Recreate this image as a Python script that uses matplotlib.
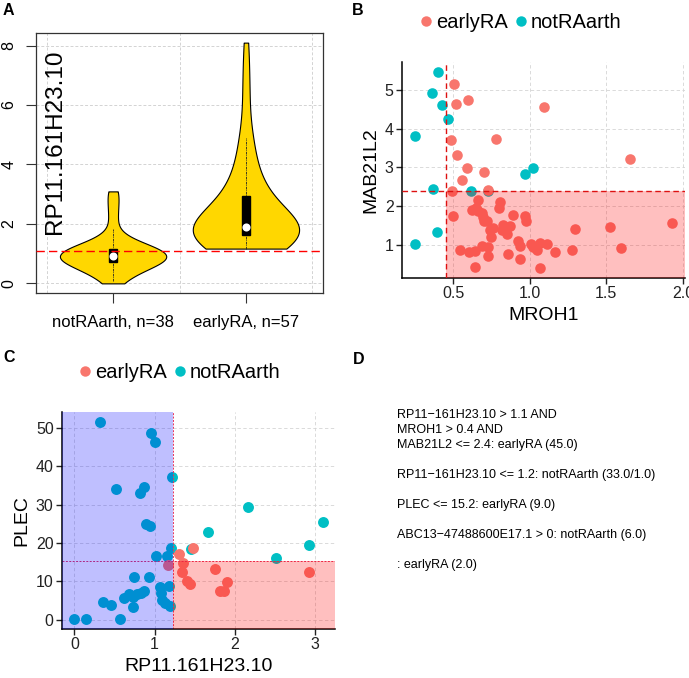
import numpy as np
import matplotlib
matplotlib.use("Agg")
from matplotlib import pyplot as plt
from matplotlib.patches import Rectangle
from matplotlib.lines import Line2D

plt.rcParams['font.family'] = ['Liberation Sans', 'DejaVu Sans']

# %% data
# RP11.161H23.10 expression per group (panel A and x of panel C)
not_ra_rp11 = [0.0, 0.149, 0.315, 0.353, 0.46, 0.519, 0.573, 0.614, 0.676, 0.73,
               0.73, 0.739, 0.78, 0.822, 0.83, 0.871, 0.871, 0.896, 0.925, 0.946,
               0.958, 1.008, 1.02, 1.07, 1.083, 1.091, 1.133, 1.15, 1.174, 1.195,
               1.207, 1.216, 1.456, 1.672, 2.17, 2.514, 2.925, 3.095]
early_ra_rp11 = [1.17, 1.2, 1.25, 1.3, 1.307, 1.34, 1.353, 1.38, 1.402, 1.444,
                 1.485, 1.52, 1.55, 1.58, 1.62, 1.65, 1.68, 1.70, 1.72, 1.74,
                 1.755, 1.77, 1.79, 1.81, 1.83, 1.85, 1.86, 1.867, 1.9,
                 1.92, 1.95, 2.0, 2.05, 2.1, 2.2, 2.3, 2.4, 2.5, 2.6, 2.7, 2.8,
                 2.9, 2.93, 3.05, 3.2, 3.35, 3.5, 3.7, 3.9, 4.2, 4.5, 4.8, 5.0,
                 5.8, 6.5, 7.2, 8.1]
group_names = ['notRAarth', 'earlyRA']
rp11_cut_a = 1.1

# panel B: MROH1 vs MAB21L2 (samples with RP11.161H23.10 > 1.1)
b_early_mroh1 = [0.502, 0.515, 0.598, 1.09, 0.485, 0.779, 0.526, 1.657, 0.592, 0.703,
                 0.555, 0.493, 0.725, 0.664, 0.806, 0.62, 0.648, 0.797, 0.893, 0.969,
                 0.976, 0.5, 0.697, 0.718, 0.686, 0.828, 0.821, 0.849, 0.74, 0.745,
                 1.297, 1.526, 1.93, 0.926, 0.937, 1.007, 1.068, 1.111, 1.046, 1.162,
                 0.544, 0.605, 0.644, 0.688, 0.729, 0.729, 0.856, 0.937, 0.642, 1.068,
                 1.275, 1.598, 0.70, 0.76, 0.87, 1.02, 0.66]
b_early_mab21l2 = [5.15, 4.63, 4.74, 4.55, 3.71, 3.72, 3.33, 3.21, 2.97, 2.87,
                   2.67, 2.38, 2.41, 2.16, 2.09, 1.89, 1.94, 1.94, 1.76, 1.75,
                   1.62, 1.74, 1.72, 1.62, 1.81, 1.51, 1.38, 1.27, 1.38, 1.19,
                   1.40, 1.46, 1.57, 1.10, 0.97, 1.01, 1.04, 1.01, 0.85, 0.81,
                   0.85, 0.81, 0.83, 0.97, 0.95, 0.71, 0.76, 0.64, 0.43, 0.39,
                   0.87, 0.91, 1.60, 1.43, 1.48, 0.93, 1.86]
b_not_mroh1 = [0.402, 0.358, 0.428, 0.463, 0.249, 0.969, 1.02, 0.369, 0.614, 0.729,
               0.391, 0.249]
b_not_mab21l2 = [5.47, 4.92, 4.6, 4.25, 3.81, 2.83, 2.99, 2.45, 2.38, 2.39, 1.33, 1.01]
mroh1_cut = 0.455
mab21l2_cut = 2.38

# panel C: RP11.161H23.10 vs PLEC (remaining samples)
c_not_plec = [0.1, 0.1, 51.6, 4.7, 3.8, 34.0, 0.1, 5.7, 6.6, 6.0,
              3.3, 11.1, 6.6, 33.0, 6.9, 34.5, 7.5, 24.9, 11.2, 24.5,
              48.6, 46.4, 16.6, 8.5, 6.8, 5.1, 4.4, 16.6, 8.8, 3.6,
              18.8, 37.1, 18.4, 22.9, 29.3, 16.0, 19.4, 25.5]
c_early_rp11 = [1.162, 1.307, 1.485, 1.353, 1.34, 1.402, 1.444, 1.755, 1.90, 1.81,
                1.867, 2.93]
c_early_plec = [14.2, 17.2, 18.8, 14.7, 12.3, 10.1, 9.2, 13.2, 9.9, 7.5, 7.5, 12.5]
rp11_cut_c = 1.224
plec_cut = 15.3

rule_lines = [
    "RP11\u2212161H23.10 > 1.1 AND",
    "MROH1 > 0.4 AND",
    "MAB21L2 <= 2.4: earlyRA (45.0)",
    "",
    "RP11\u2212161H23.10 <= 1.2: notRAarth (33.0/1.0)",
    "",
    "PLEC <= 15.2: earlyRA (9.0)",
    "",
    "ABC13\u221247488600E17.1 > 0: notRAarth (6.0)",
    "",
    ": earlyRA (2.0)",
]

RED = '#F8766D'
TEAL = '#00BFC4'

W, H = 689, 678
fig = plt.figure(figsize=(W / 100, H / 100), dpi=100)


def px_axes(l, t, r, b):
    return fig.add_axes([l / W, 1 - b / H, (r - l) / W, (b - t) / H])


def gg_lim(vals, frac=0.05):
    lo, hi = min(vals), max(vals)
    pad = (hi - lo) * frac
    return lo - pad, hi + pad


def gg_style(ax):
    ax.set_axisbelow(True)
    ax.grid(True, ls=(0, (4, 3)), color='#d4d4d4', lw=0.6)
    for s in ('top', 'right'):
        ax.spines[s].set_visible(False)
    for s in ('left', 'bottom'):
        ax.spines[s].set_linewidth(1.1)
    ax.tick_params(direction='out', length=4, width=1, labelsize=11.5,
                   colors='#222222', pad=2)


# %% panel A: violins
axA = px_axes(36, 33, 323, 293)
groups = [not_ra_rp11, early_ra_rp11]
for pos, d in zip([1, 2], groups):
    d = np.asarray(d)
    h = d.std(ddof=1) * (4 / (3 * len(d))) ** 0.2
    grid = np.linspace(d.min(), d.max(), 300)
    dens = np.exp(-0.5 * ((grid[:, None] - d[None, :]) / h) ** 2).sum(axis=1)
    half = dens / dens.max() * 0.4
    axA.fill_betweenx(grid, pos - half, pos + half, facecolor='#FFD700',
                      edgecolor='black', lw=0.8, zorder=3)
    q1, med, q3 = np.percentile(d, [25, 50, 75])
    iqr = q3 - q1
    lo = max(d.min(), q1 - 1.5 * iqr)
    hi = min(d.max(), q3 + 1.5 * iqr)
    axA.plot([pos, pos], [lo, hi], color='#222222', lw=0.6, ls=(0, (3, 1, 1, 1)), zorder=4)
    axA.add_patch(Rectangle((pos - 0.027, q1), 0.054, q3 - q1, color='black', zorder=5))
    axA.scatter([pos], [med], s=34, color='white', zorder=6, lw=0)

for gx in [0.5, 1.5, 2.5]:
    axA.axvline(gx, color='#d3d3d3', lw=0.7, ls=(0, (3, 2)), zorder=1)
for gy in [0, 2, 4, 6, 8]:
    axA.axhline(gy, color='#d3d3d3', lw=0.7, ls=(0, (3, 2)), zorder=1)
axA.axhline(rp11_cut_a, color='red', lw=1, ls=(0, (6, 3)), zorder=7)
allv = not_ra_rp11 + early_ra_rp11
axA.set_ylim(gg_lim(allv, 0.04))
axA.set_xlim(0.42, 2.58)
axA.set_yticks([0, 2, 4, 6, 8])
axA.set_xticks([1, 2])
axA.set_xticklabels(['%s, n=%d' % (n, len(g)) for n, g in zip(group_names, groups)])
axA.tick_params(axis='x', length=7, labelsize=12, pad=9, color='#333333')
axA.tick_params(axis='y', length=7, labelsize=11.5, pad=7, color='#333333',
                labelrotation=90)
for lab in axA.get_yticklabels():
    lab.set_va('center')
for s in axA.spines.values():
    s.set_color('#333333')
    s.set_linewidth(0.9)
axA.text(0.066, 0.58, 'RP11.161H23.10', transform=axA.transAxes, rotation=90,
         ha='center', va='center', fontsize=17.5)

# %% panel B
axB = px_axes(402, 62, 685, 278)
gg_style(axB)
axB.scatter(b_not_mroh1, b_not_mab21l2, s=58, color=TEAL, lw=0, zorder=2)
axB.scatter(b_early_mroh1, b_early_mab21l2, s=58, color=RED, lw=0, zorder=2)
bx = gg_lim(b_not_mroh1 + b_early_mroh1)
by = gg_lim(b_not_mab21l2 + b_early_mab21l2)
axB.set_xlim(bx)
axB.set_ylim(by)
axB.add_patch(Rectangle((mroh1_cut, by[0]), bx[1] - mroh1_cut, mab21l2_cut - by[0],
                        facecolor='red', alpha=0.25, lw=0, zorder=3))
axB.axvline(mroh1_cut, color='#dd1111', lw=1, ls=(0, (4, 2.5)), zorder=4)
axB.axhline(mab21l2_cut, color='#dd1111', lw=1, ls=(0, (4, 2.5)), zorder=4)
axB.set_xticks([0.5, 1.0, 1.5, 2.0])
axB.set_yticks([1, 2, 3, 4, 5])
axB.set_xlabel('MROH1', fontsize=14, labelpad=4)
axB.set_ylabel('MAB21L2', fontsize=14, labelpad=4)

# %% panel C
axC = px_axes(62, 412, 335, 629)
gg_style(axC)
c_not_rp11 = not_ra_rp11
axC.scatter(c_not_rp11, c_not_plec, s=62, color=TEAL, lw=0, zorder=2)
axC.scatter(c_early_rp11, c_early_plec, s=62, color=RED, lw=0, zorder=2)
cx = gg_lim(c_not_rp11 + c_early_rp11)
cy = gg_lim(c_not_plec + c_early_plec)
axC.set_xlim(cx)
axC.set_ylim(cy)
axC.add_patch(Rectangle((cx[0], cy[0]), rp11_cut_c - cx[0], cy[1] - cy[0],
                        facecolor='blue', alpha=0.25, lw=0, zorder=3))
axC.add_patch(Rectangle((rp11_cut_c, cy[0]), cx[1] - rp11_cut_c, plec_cut - cy[0],
                        facecolor='red', alpha=0.25, lw=0, zorder=3))
axC.axvline(rp11_cut_c, color='#e8325a', lw=0.7, ls=(0, (2, 1.5)), zorder=2.5)
axC.axhline(plec_cut, color='#e8325a', lw=0.7, ls=(0, (2, 1.5)), zorder=2.5)
axC.set_xticks([0, 1, 2, 3])
axC.set_yticks([0, 10, 20, 30, 40, 50])
axC.set_xlabel('RP11.161H23.10', fontsize=14, labelpad=4)
axC.set_ylabel('PLEC', fontsize=14, labelpad=4)

# legends for B and C
handles = [Line2D([], [], ls='', marker='o', ms=7.5, mew=0, color=RED, label='earlyRA'),
           Line2D([], [], ls='', marker='o', ms=7.5, mew=0, color=TEAL, label='notRAarth')]
for cxp, cyp in [(520, 23), (179, 373)]:
    fig.legend(handles=handles, loc='center', bbox_to_anchor=(cxp / W, 1 - cyp / H),
               ncol=2, frameon=False, fontsize=14.5, handlelength=0.7,
               handletextpad=0.15, columnspacing=0.3, borderpad=0)

# %% panel D: rules text
for i, line in enumerate(rule_lines):
    if line:
        fig.text(397 / W, 1 - (418 + 15 * i) / H, line, fontsize=9, va='baseline',
                 ha='left')

# panel letters
for lab, x, y in [('A', 3, 3), ('B', 352, 3), ('C', 3, 350), ('D', 353, 352)]:
    fig.text(x / W, 1 - y / H, lab, fontsize=11.5, fontweight='bold', va='top', ha='left')

fig.savefig('out.png', dpi=100)
